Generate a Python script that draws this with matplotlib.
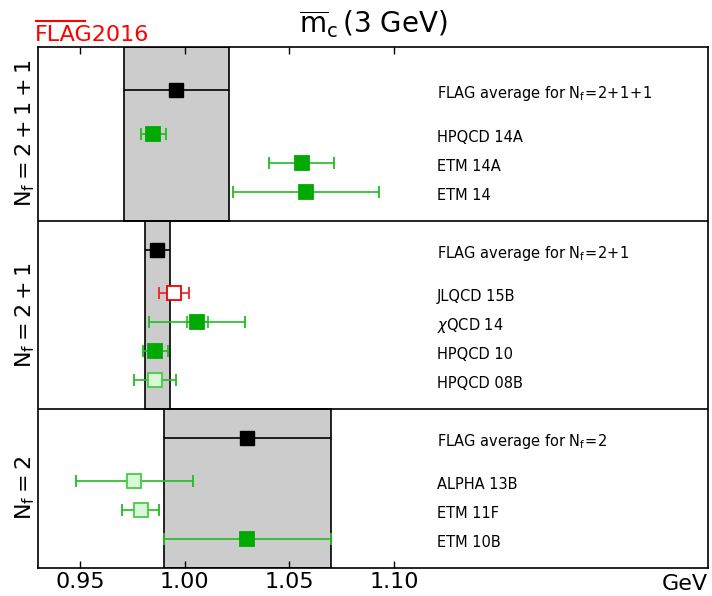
import matplotlib
matplotlib.use("Agg")
import matplotlib.pyplot as plt
from matplotlib.patches import Rectangle
from matplotlib.lines import Line2D
from matplotlib import transforms

plt.rcParams['mathtext.fontset'] = 'dejavusans'

# N_f = 2+1+1
labels_4 = ['HPQCD 14A', 'ETM 14A', 'ETM 14']
vals_4 = [0.985, 1.056, 1.058]
errs_4 = [0.006, 0.0155, 0.035]
kinds_4 = ['full', 'full', 'full']
avg_4, avg_err_4 = 0.996, 0.025

# N_f = 2+1
labels_3 = ['JLQCD 15B', r'$\chi$QCD 14', 'HPQCD 10', 'HPQCD 08B']
vals_3 = [0.995, 1.006, 0.986, 0.986]
errs_3 = [0.007, 0.023, 0.006, 0.010]
stat_3 = [None, 0.005, None, None]
kinds_3 = ['red', 'full', 'full', 'light']
avg_3, avg_err_3 = 0.987, 0.006

# N_f = 2
labels_2 = ['ALPHA 13B', 'ETM 11F', 'ETM 10B']
vals_2 = [0.976, 0.979, 1.030]
errs_2 = [0.028, 0.009, 0.040]
kinds_2 = ['light', 'light', 'full']
avg_2, avg_err_2 = 1.030, 0.040

nf_labels = [r'$\mathrm{N_f=2}$', r'$\mathrm{N_f=2+1}$', r'$\mathrm{N_f=2+1+1}$']
avg_labels = [r'FLAG average for $\mathrm{N_f\!=\!2}$',
              r'FLAG average for $\mathrm{N_f\!=\!2\!+\!1}$',
              r'FLAG average for $\mathrm{N_f\!=\!2\!+\!1\!+\!1}$']
xticks = [0.95, 1.00, 1.05, 1.10]

styles = {
    'full': dict(mfc='#00aa00', mec='#00aa00', ecolor='#22bb22'),
    'light': dict(mfc='#d8f8d8', mec='#44cc44', ecolor='#22bb22'),
    'red': dict(mfc='white', mec='#ee0000', ecolor='#ee2222'),
}

panels = [
    (labels_2, vals_2, errs_2, [None] * 3, kinds_2, avg_2, avg_err_2),
    (labels_3, vals_3, errs_3, stat_3, kinds_3, avg_3, avg_err_3),
    (labels_4, vals_4, errs_4, [None] * 3, kinds_4, avg_4, avg_err_4),
]

fig = plt.figure(figsize=(7.12, 5.96), dpi=100)
ax = fig.add_axes([38 / 712, 28 / 596, 670 / 712, 521 / 596])
ax.set_xlim(0.93, 1.25)
ax.set_ylim(0, 18)
trans = transforms.blended_transform_factory(ax.transAxes, ax.transData)

base = 0.0
for k, (labs, vals, errs, stats, kinds, avg, aerr) in enumerate(panels):
    n = len(labs)
    yavg = base + n + 1.5
    top = yavg + 1.0 if k < 2 else 18
    ax.add_patch(Rectangle((avg - aerr, base), 2 * aerr, top - base,
                           fc='#cccccc', ec='black', lw=1.2, zorder=1))
    ax.errorbar([avg], [yavg], xerr=[aerr], fmt='s', color='black', ms=9.5,
                elinewidth=1.2, capsize=0, zorder=3)
    ax.text(1.1205, yavg - 0.12, avg_labels[k], va='center', ha='left', fontsize=10.5)
    for i in range(n):
        y = base + n - i
        st = styles[kinds[i]]
        ax.errorbar([vals[i]], [y], xerr=[errs[i]], fmt='s', ms=9.5, mew=1.3,
                    mfc=st['mfc'], mec=st['mec'], ecolor=st['ecolor'],
                    elinewidth=1.2, capsize=4, capthick=1.2, zorder=3)
        if stats[i] is not None:
            ax.errorbar([vals[i]], [y], xerr=[stats[i]], fmt='none',
                        ecolor=st['ecolor'], elinewidth=1.2, capsize=4,
                        capthick=1.2, zorder=3)
        ax.text(1.1205, y - 0.12, labs[i], va='center', ha='left', fontsize=10.5)
    ax.text(-0.019, (base + top) / 2, nf_labels[k], transform=trans, rotation=90,
            va='center', ha='center', fontsize=16)
    if k < 2:
        ax.axhline(top, color='black', lw=1.2, zorder=2)
    base = top

ax.set_xticks(xticks)
ax.set_xticklabels(['%.2f' % t for t in xticks], fontsize=16)
ax.set_yticks([])
ax.tick_params(axis='x', direction='in', top=True, length=5, width=1, pad=3)
for s in ax.spines.values():
    s.set_linewidth(1.2)

ax.text(1.0, -0.012, 'GeV', transform=ax.transAxes, ha='right', va='top', fontsize=16)
ax.set_title(r'$\overline{\mathrm{m}}_\mathrm{c}\,$(3 GeV)', fontsize=20, pad=10)

# red FLAG logo with bar over "FLA"
fig.text(35 / 712, 1 - 41 / 596, 'FLAG2016', color='red', fontsize=16,
         ha='left', va='baseline')
fig.add_artist(Line2D([36 / 712, 85 / 712], [1 - 21 / 596, 1 - 21 / 596],
                      color='red', lw=1.5, transform=fig.transFigure))

plt.savefig('out.png', dpi=100)
